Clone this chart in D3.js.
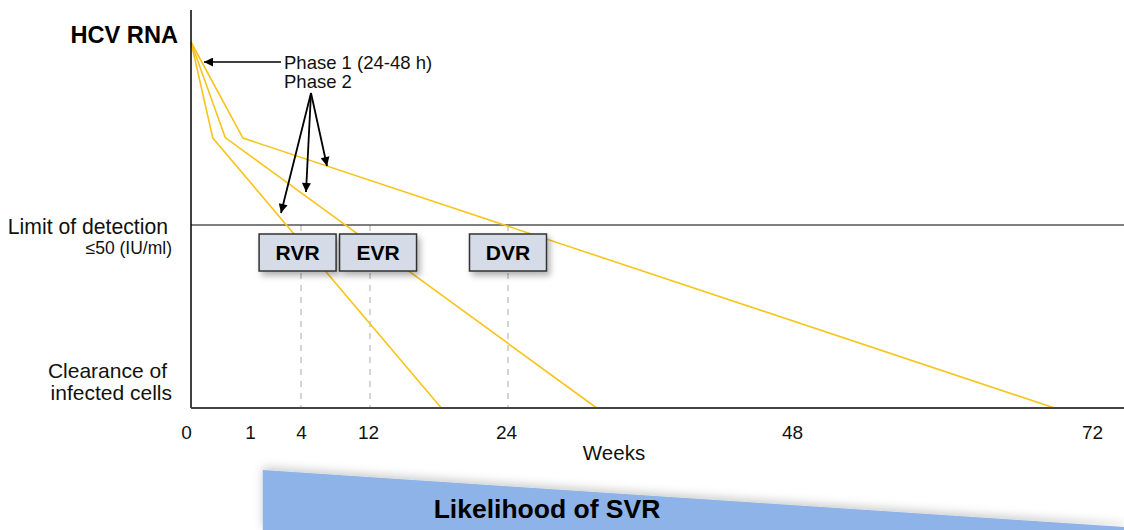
<!DOCTYPE html>
<html>
<head>
<meta charset="utf-8">
<script src="https://cdn.jsdelivr.net/npm/d3@7"></script>
<style>
  body { margin: 0; background: #fff; }
  svg { display: block; font-family: "Liberation Sans", Arial, sans-serif; }
</style>
</head>
<body>
<svg id="chart" width="1124" height="530"></svg>
<script>
// ----- Data (weeks on x, conceptual HCV RNA level on y: 0 = clearance, 1 = limit, 2 = baseline)
const weekTicks = [0, 1, 4, 12, 24, 48, 72];
const yLevels = { clearance: 0, limit: 1, baseline: 2 };

// three decay curves: start, end of phase 1, end of phase 2
const curveWeeks = [
  [0, 0.37, 18.2],
  [0, 0.58, 31.5],
  [0, 0.88, 69.0]
];
const curveLevels = [
  [2, 1.475, 0],
  [2, 1.478, 0],
  [2, 1.475, 0]
];

const responses = ["RVR", "EVR", "DVR"];
const responseWeeks = [4, 12, 24];
const boxCenters = [3.8, 12.7, 24]; // boxes sit a little off their dashed lines

// likelihood of SVR wedge (relative height)
const svrWeeks = [1.75, 74.6];
const svrLikelihood = [1, 0.05];

// ----- Scales
const svg = d3.select("#chart");
const x = d3.scaleLinear()
  .domain(weekTicks)
  .range([191, 250, 301, 370, 508, 792, 1092]);
const y = d3.scaleLinear().domain([0, 2]).range([408, 42]);
const ySvr = d3.scaleLinear().domain([0, 1]).range([530, 470]);

const gold = "#f8c41c";

// defs: arrowhead + shadows
const defs = svg.append("defs");
defs.append("marker")
  .attr("id", "arrow")
  .attr("viewBox", "0 0 10 10")
  .attr("refX", 10).attr("refY", 5)
  .attr("markerWidth", 16).attr("markerHeight", 9)
  .attr("markerUnits", "userSpaceOnUse")
  .attr("orient", "auto")
  .append("path").attr("d", "M0,0 L10,5 L0,10 z").attr("fill", "#000");

const sh = defs.append("filter").attr("id", "shadow")
  .attr("x", "-20%").attr("y", "-30%").attr("width", "150%").attr("height", "180%");
sh.append("feDropShadow").attr("dx", 3).attr("dy", 4).attr("stdDeviation", 3)
  .attr("flood-color", "#000").attr("flood-opacity", 0.3);

const sh2 = defs.append("filter").attr("id", "wedgeShadow")
  .attr("x", "-5%").attr("y", "-60%").attr("width", "110%").attr("height", "200%");
sh2.append("feDropShadow").attr("dx", 0).attr("dy", -3).attr("stdDeviation", 5)
  .attr("flood-color", "#000").attr("flood-opacity", 0.2);

// ----- Dashed response lines
svg.append("g")
  .selectAll("line")
  .data(responseWeeks)
  .join("line")
    .attr("x1", d => x(d)).attr("x2", d => x(d))
    .attr("y1", y(yLevels.limit)).attr("y2", y(yLevels.clearance))
    .attr("stroke", "#aaa")
    .attr("stroke-width", 1)
    .attr("stroke-dasharray", "6,6");

// ----- Limit of detection line
svg.append("line")
  .attr("x1", x(0)).attr("x2", 1124)
  .attr("y1", y(yLevels.limit)).attr("y2", y(yLevels.limit))
  .attr("stroke", "#000").attr("stroke-width", 1.2);

// ----- Decay curves
const line = d3.line().x(d => x(d[0])).y(d => y(d[1]));
svg.append("g")
  .selectAll("path")
  .data(curveWeeks.map((w, i) => w.map((v, j) => [v, curveLevels[i][j]])))
  .join("path")
    .attr("d", line)
    .attr("fill", "none")
    .attr("stroke", gold)
    .attr("stroke-width", 1.6);

// ----- Axes
svg.append("line")
  .attr("x1", x(0)).attr("x2", x(0))
  .attr("y1", 10).attr("y2", y(0))
  .attr("stroke", "#000").attr("stroke-width", 1.5);

const xAxis = d3.axisBottom(x).tickValues(weekTicks).tickSize(0).tickPadding(18);
const gx = svg.append("g")
  .attr("transform", `translate(0,${y(0)})`)
  .call(xAxis)
  .call(g => g.select(".domain").remove());
gx.selectAll(".tick text")
  .attr("font-size", 19)
  .attr("font-family", "Liberation Sans, Arial, sans-serif")
  .attr("fill", "#111")
  .attr("dx", d => d === 0 ? -5 : (d === 12 || d === 24 ? -2 : 0));

svg.append("line")
  .attr("x1", x(0)).attr("x2", 1124)
  .attr("y1", y(0)).attr("y2", y(0))
  .attr("stroke", "#444").attr("stroke-width", 2);

svg.append("text")
  .attr("x", 614).attr("y", 460)
  .attr("text-anchor", "middle").attr("font-size", 20.5).attr("fill", "#111")
  .text("Weeks");

// ----- Y labels
svg.append("text")
  .attr("x", 178).attr("y", 43)
  .attr("text-anchor", "end").attr("font-size", 23.6).attr("font-weight", "bold")
  .text("HCV RNA");
svg.append("text")
  .attr("x", 168).attr("y", 234)
  .attr("text-anchor", "end").attr("font-size", 21.2).attr("fill", "#111")
  .text("Limit of detection");
svg.append("text")
  .attr("x", 172).attr("y", 254)
  .attr("text-anchor", "end").attr("font-size", 17.5).attr("fill", "#111")
  .text("≤50 (IU/ml)");
const clr = svg.append("text")
  .attr("text-anchor", "end").attr("font-size", 21).attr("fill", "#111");
clr.append("tspan").attr("x", 167).attr("y", 378).text("Clearance of");
clr.append("tspan").attr("x", 172).attr("y", 400).text("infected cells");

// ----- Phase annotations
svg.append("text")
  .attr("x", 284).attr("y", 69).attr("font-size", 18.5).attr("fill", "#111")
  .text("Phase 1 (24-48 h)");
svg.append("text")
  .attr("x", 284).attr("y", 88).attr("font-size", 18.5).attr("fill", "#111")
  .text("Phase 2");

svg.append("line")
  .attr("x1", 281).attr("y1", 62).attr("x2", 204).attr("y2", 62)
  .attr("stroke", "#000").attr("stroke-width", 1.6)
  .attr("marker-end", "url(#arrow)");

// phase 2 arrows point at each curve's second segment
const arrowTips = [[281, 213], [306, 192], [327, 166]];
svg.append("g")
  .selectAll("line")
  .data(arrowTips)
  .join("line")
    .attr("x1", 311).attr("y1", 93)
    .attr("x2", d => d[0]).attr("y2", d => d[1])
    .attr("stroke", "#000").attr("stroke-width", 1.8)
    .attr("marker-end", "url(#arrow)");

// ----- Response boxes
const bw = 77, bh = 37;
const boxes = svg.append("g")
  .selectAll("g")
  .data(responses)
  .join("g")
    .attr("transform", (d, i) => `translate(${x(boxCenters[i]) - bw / 2},234)`);
boxes.append("rect")
  .attr("width", bw).attr("height", bh)
  .attr("fill", "#d5dce7").attr("stroke", "#333").attr("stroke-width", 1.5)
  .attr("filter", "url(#shadow)");
boxes.append("text")
  .attr("x", bw / 2).attr("y", 26)
  .attr("text-anchor", "middle").attr("font-size", 21).attr("font-weight", "bold")
  .text(d => d);

// ----- Likelihood of SVR wedge
const wedge = [
  [x(svrWeeks[0]), ySvr(svrLikelihood[0])],
  [x(svrWeeks[1]), ySvr(svrLikelihood[1])],
  [x(svrWeeks[1]), ySvr(0)],
  [x(svrWeeks[0]), ySvr(0)]
];
svg.append("path")
  .attr("d", "M" + wedge.join("L") + "Z")
  .attr("fill", "#8db3e8")
  .attr("filter", "url(#wedgeShadow)");
svg.append("text")
  .attr("x", 547).attr("y", 518)
  .attr("text-anchor", "middle").attr("font-size", 26.5).attr("font-weight", "bold")
  .text("Likelihood of SVR");
</script>
</body>
</html>
